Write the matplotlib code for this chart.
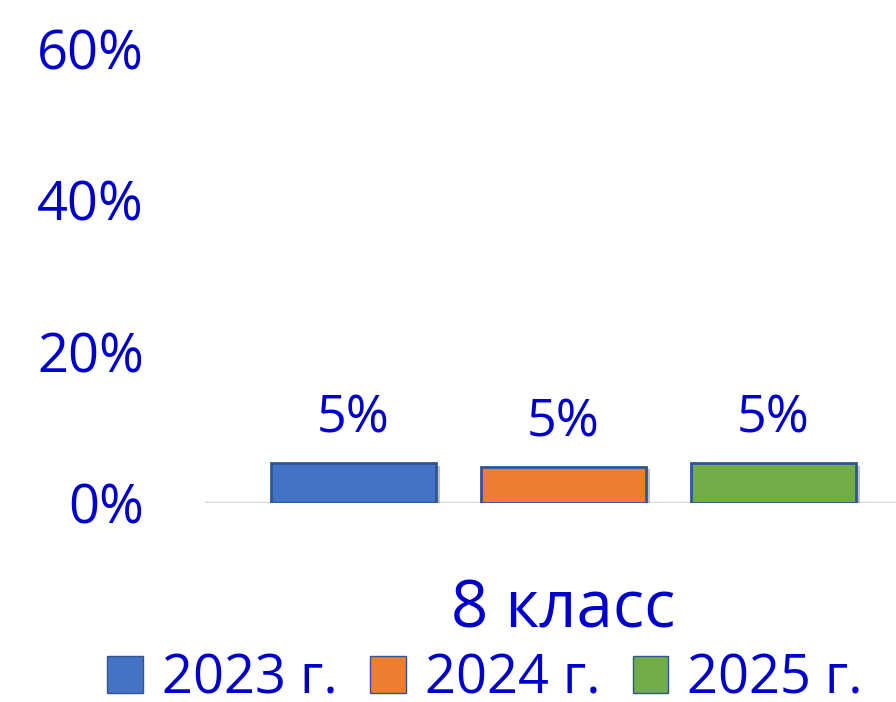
import matplotlib.pyplot as plt
import matplotlib.patheffects as pe

# data
years = ["2023 г.", "2024 г.", "2025 г."]
values = [5.3, 4.8, 5.25]
labels = ["5%", "5%", "5%"]
category = "8 класс"
yticks = [0, 20, 40, 60]

colors = ["#4472C4", "#ED7D31", "#70AD47"]
edge = "#2F5597"
text_color = "#0000CC"

plt.rcParams['font.family'] = ['Open Sans', 'DejaVu Sans']

fig = plt.figure(figsize=(8.96, 7.02), dpi=100)
ax = fig.add_axes([205 / 896, 1 - 503 / 702, (896 - 205) / 896, (503 - 48) / 702])

positions = [-1, 0, 1]
bars = ax.bar(positions, values, width=165 / 210, color=colors, edgecolor=edge,
              linewidth=2, zorder=3)
for b in bars:
    b.set_path_effects([pe.SimplePatchShadow(offset=(3, -2), shadow_rgbFace="#808080", alpha=0.5),
                        pe.Normal()])

for x, v, lab in zip(positions, values, labels):
    ax.annotate(lab, (x, v), xytext=(0, 22), textcoords="offset points",
                ha="center", va="baseline", fontsize=37.5, color=text_color)

ax.axhline(0, color="#D9D9D9", linewidth=2.5, zorder=2)

ax.set_xlim((205 - 563) / 210, (896 - 563) / 210)
ax.set_ylim(0, 60)
ax.set_yticks(yticks)
ax.set_yticklabels([f"{t}%" for t in yticks], fontsize=39, color=text_color)
ax.tick_params(axis="y", length=0, pad=44)
ax.set_xticks([])
for s in ax.spines.values():
    s.set_visible(False)

fig.text(563 / 896, 1 - 627 / 702, category, ha="center", va="baseline",
         fontsize=47, color=text_color)

handles = [plt.Rectangle((0, 0), 1, 1, facecolor=c, edgecolor=edge, linewidth=1) for c in colors]
fig.legend(handles, years, loc="center left", bbox_to_anchor=(107 / 896, 1 - 679 / 702),
           ncol=3, frameon=False, fontsize=39, labelcolor=text_color,
           borderpad=0, borderaxespad=0,
           handlelength=0.66, handleheight=0.66, handletextpad=0.35, columnspacing=0.6)

fig.savefig("out.png")
